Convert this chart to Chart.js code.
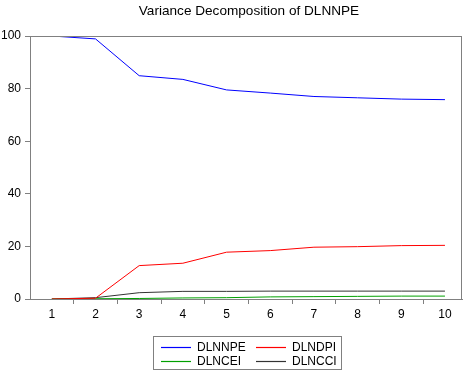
<!DOCTYPE html>
<html>
<head>
<meta charset="utf-8">
<script src="https://cdn.jsdelivr.net/npm/chart.js@4.4.0/dist/chart.umd.min.js"></script>
<style>
  body { margin: 0; background: #fff; }
  #wrap { position: relative; width: 472px; height: 373px; }
  #title {
    position: absolute; left: 99px; top: 3px; width: 300px; text-align: center;
    font-family: "Liberation Sans", Arial, sans-serif; font-size: 13.6px; color: #000;
    white-space: nowrap; line-height: 16px;
  }
  #legend {
    position: absolute; left: 153px; top: 336px; width: 189px; height: 34px;
    border: 1px solid #808080; box-sizing: border-box;
    font-family: "Liberation Sans", Arial, sans-serif; font-size: 12px; color: #000;
  }
  .item { position: absolute; height: 14px; line-height: 14px; }
  .item svg { position: absolute; left: 0; top: 6px; }
  .item span.tx { position: absolute; left: 36px; top: 0; white-space: nowrap; }
</style>
</head>
<body>
<div id="wrap">
  <canvas id="chart" width="472" height="373"></canvas>
  <div id="title">Variance Decomposition of DLNNPE</div>
  <div id="legend"></div>
</div>
<script>
// 기간
var periods = [1, 2, 3, 4, 5, 6, 7, 8, 9, 10];
// 시리즈 값
var dlnnpe = [100, 98.9, 84.9, 83.5, 79.5, 78.3, 77.0, 76.5, 76.0, 75.8];
var dlndpi = [0, 0.3, 12.7, 13.6, 17.8, 18.4, 19.7, 19.9, 20.3, 20.4];
var dlncei = [0, 0.1, 0.2, 0.4, 0.5, 0.8, 0.9, 1.0, 1.1, 1.1];
var dlncci = [0, 0.5, 2.4, 2.9, 2.9, 3.0, 3.0, 3.0, 3.0, 3.0];
var seriesNames = ['DLNNPE', 'DLNDPI', 'DLNCEI', 'DLNCCI'];
var seriesColors = ['#0000ff', '#ff0000', '#00a000', '#333333'];
var yTicks = [0, 20, 40, 60, 80, 100];

var allData = [dlnnpe, dlndpi, dlncei, dlncci];
var datasets = allData.map(function (vals, i) {
  return {
    label: seriesNames[i],
    data: periods.map(function (p, j) { return { x: p, y: vals[j] }; }),
    borderColor: seriesColors[i],
    backgroundColor: seriesColors[i],
    borderWidth: 1,
    pointRadius: 0,
    tension: 0,
    fill: false
  };
});

// 테두리 그리기
var frame = {
  id: 'frame',
  afterDraw: function (chart) {
    var a = chart.chartArea, c = chart.ctx;
    c.save();
    c.strokeStyle = '#808080';
    c.lineWidth = 1;
    c.strokeRect(a.left + 0.5, a.top + 0.5, a.right - a.left - 1, a.bottom - a.top);
    c.restore();
  }
};

var font = { family: '"Liberation Sans", Arial, sans-serif', size: 12 };

new Chart(document.getElementById('chart'), {
  type: 'line',
  data: { datasets: datasets },
  options: {
    responsive: false,
    animation: false,
    layout: { padding: { left: 0, right: 10, top: 36, bottom: 50 } },
    plugins: {
      legend: { display: false },
      tooltip: { enabled: false },
      title: { display: false }
    },
    scales: {
      x: {
        type: 'linear',
        min: 0.5,
        max: 10.39,
        afterFit: function (s) { s.height = 24; },
        afterBuildTicks: function (s) {
          var t = [];
          for (var v = 0.5; v <= 10; v += 0.5) t.push({ value: v });
          s.ticks = t;
        },
        ticks: {
          color: '#000',
          font: font,
          padding: 3,
          maxRotation: 0,
          autoSkip: false,
          callback: function (v) { return v % 1 === 0 ? String(v) : ''; }
        },
        grid: {
          drawOnChartArea: false,
          tickLength: 5,
          tickColor: function (ctx) {
            var v = ctx.tick && ctx.tick.value;
            return (v % 1 === 0.5 && v > 0.5) ? '#808080' : 'rgba(0,0,0,0)';
          }
        },
        border: { color: '#808080' }
      },
      y: {
        min: 0,
        max: 100,
        afterFit: function (s) { s.width = 30; },
        afterBuildTicks: function (s) {
          s.ticks = yTicks.map(function (v) { return { value: v }; });
        },
        ticks: { color: '#000', font: font, padding: 4 },
        grid: { drawOnChartArea: false, tickLength: 5, tickColor: '#808080' },
        border: { color: '#808080' }
      }
    }
  },
  plugins: [frame]
});

// 범례
var legend = document.getElementById('legend');
var pos = [[7, 3], [102, 3], [7, 17], [102, 17]];
seriesNames.forEach(function (name, i) {
  var d = document.createElement('div');
  d.className = 'item';
  d.style.left = pos[i][0] + 'px';
  d.style.top = pos[i][1] + 'px';
  d.innerHTML = '<svg width="30" height="3"><line x1="0" y1="1.5" x2="30" y2="1.5" stroke="' +
    seriesColors[i] + '" stroke-width="1.2"/></svg><span class="tx">' + name + '</span>';
  legend.appendChild(d);
});
</script>
</body>
</html>
